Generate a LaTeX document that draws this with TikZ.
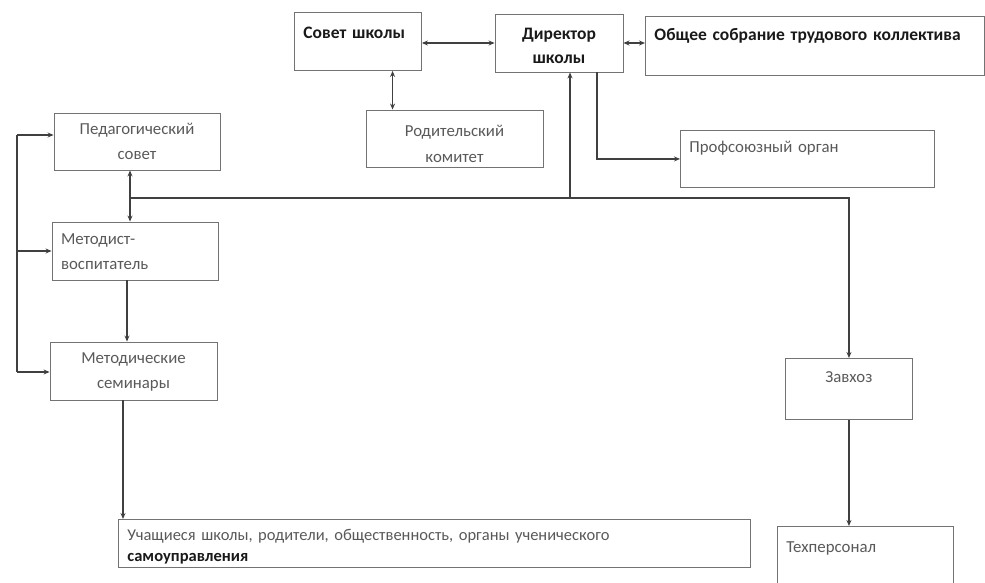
\documentclass[tikz,border=0pt]{standalone}
\usepackage{fontspec}
\setmainfont[WordSpace=0.8]{Carlito}
\usetikzlibrary{arrows.meta}

\tikzset{
  box/.style={draw=black!55, line width=0.9pt, rectangle, inner xsep=9pt, inner ysep=0pt,
              font=\fontsize{16.8}{25}\selectfont, text=black!65},
  topbox/.style={box, anchor=north west, align=left},
  midbox/.style={box, align=center},
  head/.style={font=\fontsize{17.5}{24}\selectfont\bfseries, text=black!90},
  link/.style={draw=black!75, line width=1.3pt},
  arr/.style={link, -{Stealth[length=6pt,width=5pt]}},
  biarr/.style={link, {Stealth[length=6pt,width=5pt]}-{Stealth[length=6pt,width=5pt]}}
}

\begin{document}
\begin{tikzpicture}[x=1pt,y=-1pt]
  \clip (0,0) rectangle (985,583);
  \pgfmathsetmacro\busy{198}    % level of the long horizontal line
  \pgfmathsetmacro\loopx{17}    % left feedback line

% top row
  \node[topbox,head,minimum width=127pt,text width=109pt,text height=26pt,text depth=32pt] (sovet) at (294,12) {Совет школы};
  \node[midbox,head,minimum width=128pt,text width=110pt,text height=26pt,text depth=32pt] (direktor) at (559,43) {Директор\\школы};
  \node[topbox,head,minimum width=339pt,text width=321pt,text height=24pt,text depth=35pt] (sobranie) at (645,16) {Общее собрание трудового коллектива};

% second row
  \node[midbox,minimum width=177pt,text width=159pt,text height=27pt,text depth=30pt] (komitet) at (454.5,138.5) {Родительский\\комитет};
  \node[topbox,minimum width=254pt,text width=236pt,text height=22pt,text depth=35pt] (profsoyuz) at (680,130) {Профсоюзный орган};

% left column
  \node[midbox,minimum width=166pt,text width=148pt,text height=22pt,text depth=35pt] (pedsovet) at (137,141.5) {Педагогический\\совет};
  \node[box,align=left,minimum width=166pt,text width=148pt,text height=22pt,text depth=36pt] (metodist) at (135,251) {Методист-\\воспитатель};
  \node[midbox,minimum width=167pt,text width=149pt,text height=21pt,text depth=37pt] (seminar) at (133.5,371) {Методические\\семинары};

% right column
  \node[topbox,align=center,minimum width=127pt,text width=109pt,text height=24pt,text depth=37pt] (zavhoz) at (785,358) {Завхоз};
  \node[topbox,minimum width=176pt,text width=158pt,text height=26pt,text depth=38pt] (tehper) at (777,526) {Техперсонал};

% bottom
  \node[topbox,minimum width=632pt,text width=614pt,text height=21pt,text depth=27pt,font=\fontsize{16.5}{21}\selectfont] (uchash) at (118,519)
    {Учащиеся школы, родители, общественность, органы ученического\\{\bfseries\color{black!90}самоуправления}};

  \coordinate (bus) at (130,\busy);
  \coordinate (looptop) at (\loopx,135);
  \coordinate (loopbot) at (\loopx,372);

% links of the top row
  \draw[biarr] (sovet.east |- direktor.west) -- (direktor.west);
  \draw[biarr] (direktor.east) -- (direktor.east -| sobranie.west);
  \draw[biarr] ([xshift=27pt]komitet.north west) -- ([xshift=27pt]komitet.north west |- sovet.south);
  \draw[arr] ([xshift=38pt]direktor.south) |- (profsoyuz.west);

% long horizontal line
  \draw[arr] (bus) -| (zavhoz.north);
  \draw[arr] ([xshift=11pt]direktor.south |- bus) -- ([xshift=11pt]direktor.south);
  \draw[biarr] (pedsovet.south -| bus) -- (metodist.north -| bus);

% left column
  \draw[arr] ([xshift=-8pt]metodist.south) -- ([xshift=-8pt]metodist.south |- seminar.north);
  \draw[arr] ([xshift=-10.5pt]seminar.south) -- ([xshift=-10.5pt]seminar.south |- uchash.north);
  \draw[link] (looptop) -- (loopbot);
  \draw[arr] (looptop) -- (looptop -| pedsovet.west);
  \draw[arr] (looptop |- metodist.west) -- (metodist.west);
  \draw[arr] (loopbot) -- (loopbot -| seminar.west);

% right column
  \draw[arr] (zavhoz.south) -- (zavhoz.south |- tehper.north);

\end{tikzpicture}
\end{document}
